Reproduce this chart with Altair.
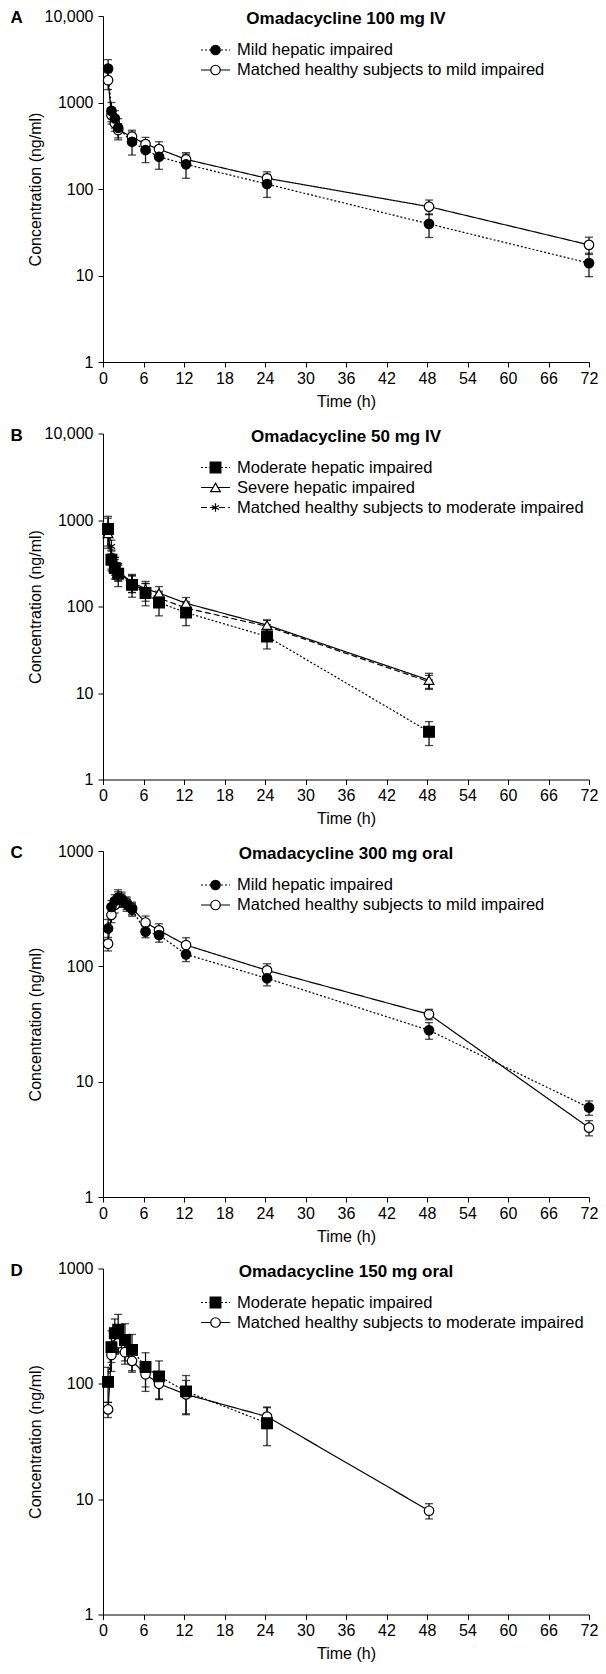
import altair as alt
import pandas as pd

# ---------------- data ----------------
A_time = [0.75, 1.25, 1.75, 2.25, 4.3, 6.3, 8.3, 12.3, 24.3, 48.3, 72]
A_mild_mean = [2470, 800, 655, 510, 352, 282, 236, 193, 114, 39.5, 13.9]
A_mild_sd = [660, 200, 150, 140, 105, 80, 67, 60, 34, 12, 4.2]
A_healthy_mean = [1810, 714, 575, 480, 402, 330, 289, 220, 133, 62.5, 22.6]
A_healthy_sd = [400, 150, 110, 90, 76, 65, 63, 43, 25, 12, 5.1]

B_time = [0.75, 1.25, 1.75, 2.25, 4.3, 6.3, 8.3, 12.3, 24.3, 48.3]
B_mod_mean = [787, 347, 278, 239, 178, 143, 111, 85, 45, 3.57]
B_mod_sd = [315, 90, 70, 69, 50, 41, 33, 25, 12.7, 1.1]
B_sev_mean = [700, 360, 300, 255, 190, 160, 143, 109, 61, 14.1]
B_sev_sd = [200, 90, 70, 60, 45, 35, 27, 18, 9, 2.8]
B_healthy_mean = [850, 495, 310, 250, 185, 150, 125, 96, 59, 13.5]
B_healthy_sd = [200, 90, 60, 50, 40, 35, 25, 18, 10, 2.5]

C_time = [0.75, 1.25, 1.75, 2.25, 2.75, 3.5, 4.3, 6.3, 8.3, 12.3, 24.3, 48.3, 72]
C_mild_mean = [213, 327, 368, 388, 375, 345, 312, 200, 187, 127, 78.7, 27.9, 5.96]
C_mild_sd = [42, 45, 50, 55, 50, 45, 40, 23, 25, 17, 11, 4.6, 0.85]
C_healthy_mean = [157, 279, 340, 395, 385, 355, 320, 240, 205, 153, 92.3, 38.4, 3.99]
C_healthy_sd = [21, 40, 50, 66, 55, 45, 40, 33, 29, 24, 13, 4, 0.6]

D_mod_time = [0.75, 1.25, 1.75, 2.25, 3.25, 4.3, 6.3, 8.3, 12.3, 24.3]
D_mod_mean = [104, 208, 275, 295, 240, 197, 140, 116, 86, 45.6]
D_mod_sd = [35, 80, 90, 105, 92, 71, 46, 42, 32, 16.5]
D_healthy_time = [0.75, 1.25, 1.75, 2.25, 3.25, 4.3, 6.3, 8.3, 12.3, 24.3, 48.3]
D_healthy_mean = [60, 178, 215, 225, 188, 158, 121, 100, 81, 52, 7.94]
D_healthy_sd = [9, 25, 35, 40, 30, 28, 35, 27, 26, 11, 1.2]

panel_letters = ["A", "B", "C", "D"]
panel_titles = ["Omadacycline 100 mg IV", "Omadacycline 50 mg IV",
                "Omadacycline 300 mg oral", "Omadacycline 150 mg oral"]
x_ticks = list(range(0, 73, 6))

# ---------------- styling ----------------
FONT = "Liberation Sans"
W, H = 486, 346
DOT = [2, 2]
DASH = [6, 3]
SOLID = [1, 0]
ASTERISK = "M0,-1L0,1M-0.866,-0.5L0.866,0.5M-0.866,0.5L0.866,-0.5"

STY = {
    "filled_circle": dict(shape="circle", fill="black", size=90),
    "open_circle": dict(shape="circle", fill="white", size=90),
    "filled_square": dict(shape="square", fill="black", size=115),
    "open_triangle": dict(shape="triangle-up", fill="white", size=95),
    "asterisk": dict(shape=ASTERISK, fill=None, size=70),
}


def make_df(time, mean, sd):
    lo = [max(m - s, 0.05) for m, s in zip(mean, sd)]
    hi = [m + s for m, s in zip(mean, sd)]
    return pd.DataFrame({"t": time, "c": mean, "lo": lo, "hi": hi})


def point_mark(base, st):
    if st["fill"] is None:
        return base.mark_point(shape=st["shape"], filled=False, stroke="black",
                               strokeWidth=1.2, size=st["size"], opacity=1)
    return base.mark_point(shape=st["shape"], filled=True, fill=st["fill"], stroke="black",
                           strokeWidth=1.2, size=st["size"], opacity=1)


def panel(idx, series, ymax):
    xenc = alt.X("t:Q", scale=alt.Scale(domain=[0, 72], nice=False),
                 axis=alt.Axis(values=x_ticks, title="Time (h)", labelFlush=False,
                               labelOverlap=False, labelPadding=3, titlePadding=7))
    yvals = [v for v in [1, 10, 100, 1000, 10000] if v <= ymax]
    yaxis = alt.Axis(values=yvals, title="Concentration (ng/ml)", labelFlush=False,
                     labelOverlap=False, labelPadding=5,
                     labelExpr="datum.value >= 10000 ? format(datum.value, ',') : format(datum.value, 'd')",
                     titleX=-68, titleY=H / 2, titleAngle=270, titleAlign="center",
                     titleBaseline="middle")
    yscale = alt.Scale(type="log", domain=[1, ymax], nice=False)

    lines, errs, pts, legend = [], [], [], []
    for i, s in enumerate(series):
        df = make_df(s["time"], s["mean"], s["sd"])
        base = alt.Chart(df)
        lines.append(base.mark_line(color="black", strokeWidth=1.2, strokeDash=s["dash"]).encode(
            x=xenc, y=alt.Y("c:Q", scale=yscale, axis=yaxis)))
        errs.append(base.mark_rule(color="black", strokeWidth=1.2).encode(
            x=xenc, y=alt.Y("lo:Q", scale=yscale, axis=yaxis), y2="hi:Q"))
        for f in ["lo", "hi"]:
            errs.append(base.mark_tick(color="black", orient="horizontal", size=8, thickness=1.3).encode(
                x=xenc, y=alt.Y(f + ":Q", scale=yscale, axis=yaxis)))
        st = STY[s["marker"]]
        pts.append(point_mark(base, st).encode(x=xenc, y=alt.Y("c:Q", scale=yscale, axis=yaxis)))

        # legend entry
        yy = 34 + 20 * i
        one = alt.Chart(pd.DataFrame({"label": [s["label"]]}))
        legend.append(one.mark_rule(color="black", strokeWidth=1.2, strokeDash=s["dash"]).encode(
            x=alt.value(98), x2=alt.value(127), y=alt.value(yy)))
        legend.append(point_mark(one, st).encode(x=alt.value(112.5), y=alt.value(yy)))
        legend.append(one.mark_text(align="left", baseline="middle", fontSize=16.5, font=FONT,
                                    color="black").encode(
            x=alt.value(134), y=alt.value(yy), text="label:N"))

    pts = pts[::-1]
    ttl = alt.Chart(pd.DataFrame({"ttl": [panel_titles[idx]]})).mark_text(
        fontSize=17, fontWeight="bold", font=FONT, color="black", align="center", baseline="middle").encode(
        x=alt.value(W / 2), y=alt.value(3), text="ttl:N")
    let = alt.Chart(pd.DataFrame({"let": [panel_letters[idx]]})).mark_text(
        fontSize=17, fontWeight="bold", font=FONT, color="black", align="left", baseline="middle").encode(
        x=alt.value(-92.5), y=alt.value(2), text="let:N")
    return alt.layer(*lines, *errs, *pts, *legend, ttl, let).properties(width=W, height=H)


pA = panel(0, [
    dict(label="Mild hepatic impaired", time=A_time, mean=A_mild_mean, sd=A_mild_sd,
         marker="filled_circle", dash=DOT),
    dict(label="Matched healthy subjects to mild impaired", time=A_time, mean=A_healthy_mean,
         sd=A_healthy_sd, marker="open_circle", dash=SOLID),
], 10000)

pB = panel(1, [
    dict(label="Moderate hepatic impaired", time=B_time, mean=B_mod_mean, sd=B_mod_sd,
         marker="filled_square", dash=DOT),
    dict(label="Severe hepatic impaired", time=B_time, mean=B_sev_mean, sd=B_sev_sd,
         marker="open_triangle", dash=SOLID),
    dict(label="Matched healthy subjects to moderate impaired", time=B_time, mean=B_healthy_mean,
         sd=B_healthy_sd, marker="asterisk", dash=DASH),
], 10000)

pC = panel(2, [
    dict(label="Mild hepatic impaired", time=C_time, mean=C_mild_mean, sd=C_mild_sd,
         marker="filled_circle", dash=DOT),
    dict(label="Matched healthy subjects to mild impaired", time=C_time, mean=C_healthy_mean,
         sd=C_healthy_sd, marker="open_circle", dash=SOLID),
], 1000)

pD = panel(3, [
    dict(label="Moderate hepatic impaired", time=D_mod_time, mean=D_mod_mean, sd=D_mod_sd,
         marker="filled_square", dash=DOT),
    dict(label="Matched healthy subjects to moderate impaired", time=D_healthy_time,
         mean=D_healthy_mean, sd=D_healthy_sd, marker="open_circle", dash=SOLID),
], 1000)

chart = alt.vconcat(pA, pB, pC, pD, spacing=16.5).properties(
    padding={"left": 2, "top": 0, "right": 0, "bottom": 0},
    background="white"
).configure_view(stroke=None).configure_axis(
    grid=False, domainColor="black", tickColor="black", labelColor="black", titleColor="black",
    labelFont=FONT, titleFont=FONT, labelFontSize=16, titleFontSize=16, titleFontWeight="normal",
    tickSize=5, domainWidth=1, tickWidth=1
)

chart.save("out.html", embed_options={"renderer": "svg", "actions": False})
